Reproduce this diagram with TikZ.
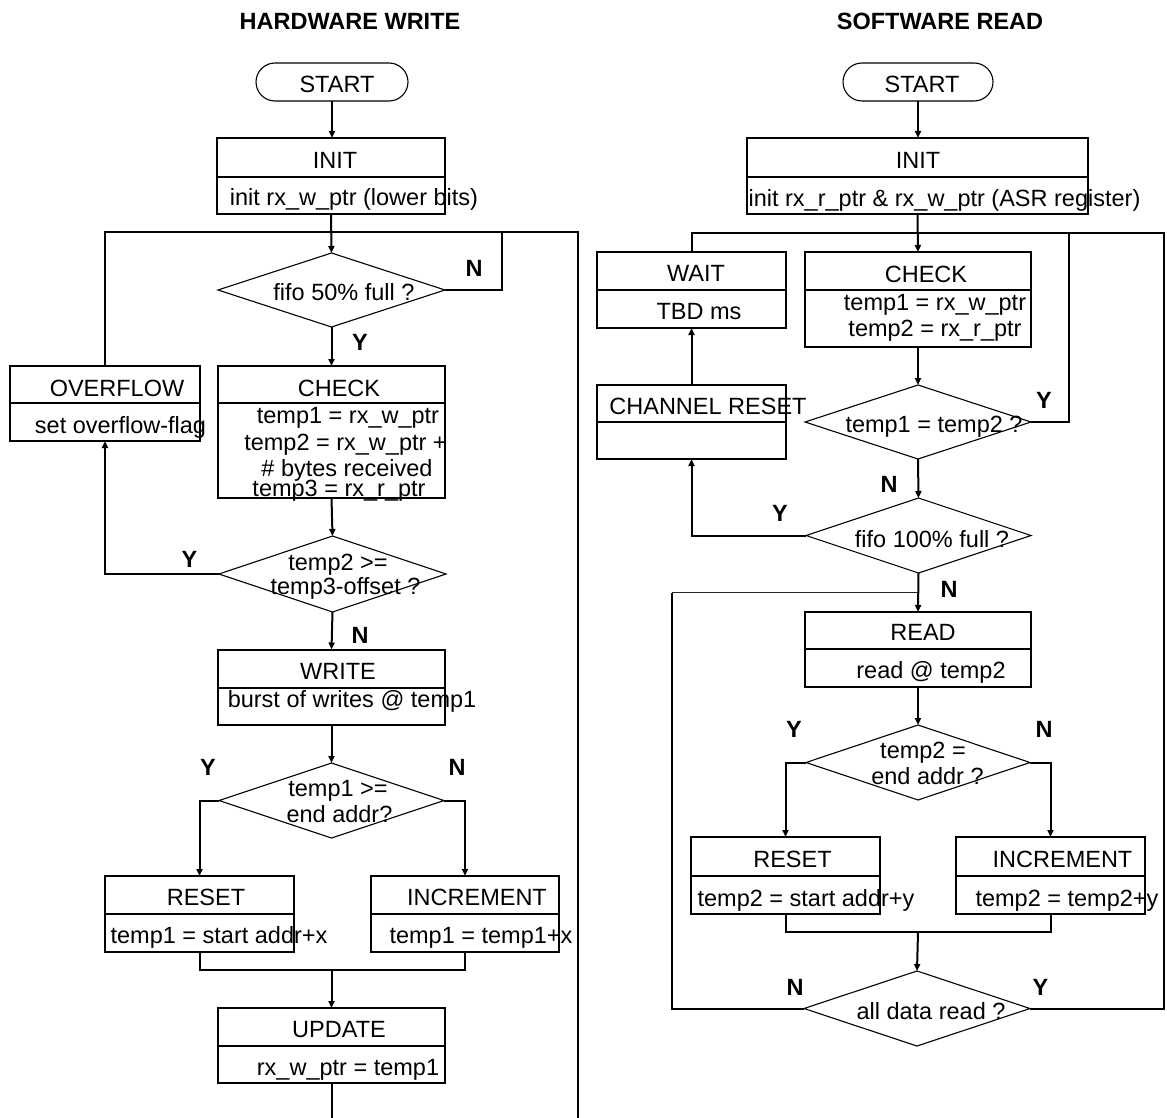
\documentclass[tikz,border=0pt]{standalone}
\usepackage{fontspec}
\setmainfont{Liberation Sans}
\usetikzlibrary{arrows.meta,shapes.geometric}

% a process box: name, x centre, top, width, height, divider offset from top
\newcommand\procbox[6]{%
  \node[box, minimum width=#4pt, minimum height=#5pt, anchor=north] (#1) at (#2,#3) {};
  \draw[boxline] ([yshift=-#6pt]#1.north west) -- ([yshift=-#6pt]#1.north east);
}

\begin{document}
\begin{tikzpicture}[x=1pt,y=-1pt,
  every node/.style={inner sep=0pt, outer sep=0pt},
  line/.style={line width=2pt},
  thinl/.style={line width=1.1pt, black!85},
  arr/.style={line width=2pt, -{Triangle[length=7pt,width=6pt]}},
  box/.style={draw, rectangle, line width=2pt},
  boxline/.style={line width=2pt},
  dec/.style={draw, diamond, line width=1.1pt},
  term/.style={draw, rectangle, rounded corners=19pt, line width=1.1pt},
  txt/.style={font=\fontsize{23.5}{26}\selectfont, text height=16.8pt, text depth=0pt},
  lbl/.style={font=\fontsize{23.5}{26}\selectfont\bfseries, text height=16.8pt, text depth=0pt},
]
\useasboundingbox (0,0) rectangle (1167,1118);

% ---------------- HARDWARE WRITE ----------------
\node[lbl] (httl) at (350,21) {HARDWARE WRITE};
\node[term, minimum width=152pt, minimum height=38pt] (hstart) at (332,82) {};
\node[txt] (hstart-t) at (337,84) {START};

\procbox{hinit}{331}{138}{228}{76}{39}
\node[txt] (hinit-a) at (335,160) {INIT};
\node[txt] (hinit-b) at (354,197) {init rx\_w\_ptr (lower bits)};

\node[dec, minimum width=227pt, minimum height=74pt] (hd1) at (331.5,290) {};
\node[txt] (hd1-t) at (344,292) {fifo 50\% full ?};
\node[lbl] (hd1-n) at (474,268) {N};
\node[lbl] (hd1-y) at (360,342) {Y};

\procbox{hcheck}{331.5}{366}{227}{132}{37}
\node[txt] (hcheck-a) at (339,388) {CHECK};
\node[txt] (hcheck-b) at (348,415.5) {temp1 = rx\_w\_ptr};
\node[txt] (hcheck-c) at (345.5,442) {temp2 = rx\_w\_ptr +};
\node[txt] (hcheck-d) at (347,468) {\# bytes received};
\node[txt] (hcheck-e) at (339,488) {temp3 = rx\_r\_ptr};

\procbox{hover}{105}{366}{190}{75}{37}
\node[txt] (hover-a) at (117,388) {OVERFLOW};
\node[txt] (hover-b) at (120.5,425) {set overflow-flag};

\node[dec, minimum width=227pt, minimum height=76pt] (hd2) at (332.5,574) {};
\node[txt] (hd2-a) at (338,562) {temp2 >=};
\node[txt] (hd2-b) at (345.5,586) {temp3-offset ?};
\node[lbl] (hd2-y) at (189.5,559) {Y};
\node[lbl] (hd2-n) at (360,635) {N};

\procbox{hwrite}{331.5}{649.5}{227}{75.5}{38}
\node[txt] (hwrite-a) at (338,671) {WRITE};
\node[txt] (hwrite-b) at (352,699) {burst of writes @ temp1};

\node[dec, minimum width=225pt, minimum height=75pt] (hd3) at (331.5,800.5) {};
\node[txt] (hd3-a) at (338,788) {temp1 >=};
\node[txt] (hd3-b) at (339.5,814.5) {end addr?};
\node[lbl] (hd3-y) at (208,767) {Y};
\node[lbl] (hd3-n) at (457,767) {N};

\procbox{hreset}{199.5}{876}{189}{76}{38}
\node[txt] (hreset-a) at (206,897) {RESET};
\node[txt] (hreset-b) at (219,935.5) {temp1 = start addr+x};

\procbox{hinc}{465}{876}{188}{76}{38}
\node[txt] (hinc-a) at (477,897) {INCREMENT};
\node[txt] (hinc-b) at (481,935.5) {temp1 = temp1+x};

\procbox{hupd}{331.5}{1008}{227}{75}{38}
\node[txt] (hupd-a) at (339,1029.5) {UPDATE};
\node[txt] (hupd-b) at (348,1067.5) {rx\_w\_ptr = temp1};

\coordinate (hloopR) at (578,232);
\coordinate (hloopE) at (578,1118);
\coordinate (hnr) at (502,232);
\coordinate (hm) at (331.5,970);
\coordinate (hbot) at (331.5,1118);

\draw[arr] (hstart.south) -- (hstart.south |- hinit.north);
\draw[arr] (hinit.south) -- (hd1.north);
\draw[line] (hover.north) |- (hloopR) -- (hloopE);
\draw[line] (hd1.east) -| (hnr);
\draw[arr] (hd1.south) -- (hcheck.north);
\draw[arr] (hcheck.south) -- (hd2.north);
\draw[arr] (hd2.west) -| (hover.south);
\draw[arr] (hd2.south) -- (hwrite.north);
\draw[arr] (hwrite.south) -- (hd3.north);
\draw[arr] (hd3.west) -| (hreset.north);
\draw[arr] (hd3.east) -| (hinc.north);
\draw[line] (hreset.south) |- (hm) -| (hinc.south);
\draw[arr] (hm) -- (hupd.north);
\draw[line] (hupd.south) -- (hbot);

% ---------------- SOFTWARE READ ----------------
\node[lbl] (sttl) at (940,21) {SOFTWARE READ};
\node[term, minimum width=150pt, minimum height=38pt] (sstart) at (918,82) {};
\node[txt] (sstart-t) at (922,84) {START};

\procbox{sinit}{917.5}{138}{341}{76}{39}
\node[txt] (sinit-a) at (918,160) {INIT};
\node[txt] (sinit-b) at (944.5,198) {init rx\_r\_ptr \& rx\_w\_ptr (ASR register)};

\procbox{swait}{691.5}{252}{189}{76}{38}
\node[txt] (swait-a) at (696,273) {WAIT};
\node[txt] (swait-b) at (699,311) {TBD ms};

\procbox{scheck}{918}{252}{226}{95}{38}
\node[txt] (scheck-a) at (926,274) {CHECK};
\node[txt] (scheck-b) at (935,302) {temp1 = rx\_w\_ptr};
\node[txt] (scheck-c) at (935,328) {temp2 = rx\_r\_ptr};

\procbox{schan}{691.5}{385}{189}{74}{37}
\node[txt] (schan-a) at (708,406) {CHANNEL RESET};

\node[dec, minimum width=226pt, minimum height=74pt] (sd1) at (918,422) {};
\node[txt] (sd1-t) at (934,424) {temp1 = temp2 ?};
\node[lbl] (sd1-y) at (1044,400) {Y};
\node[lbl] (sd1-n) at (889,484) {N};

\node[dec, minimum width=225pt, minimum height=75pt] (sd2) at (918.5,535.5) {};
\node[txt] (sd2-t) at (932,539.5) {fifo 100\% full ?};
\node[lbl] (sd2-y) at (780,513) {Y};
\node[lbl] (sd2-n) at (949,589) {N};

\procbox{sread}{918}{612}{226}{75}{37}
\node[txt] (sread-a) at (923,632) {READ};
\node[txt] (sread-b) at (931,670.5) {read @ temp2};

\node[dec, minimum width=224pt, minimum height=75pt] (sd3) at (918,762.5) {};
\node[txt] (sd3-a) at (923,750.5) {temp2 =};
\node[txt] (sd3-b) at (927.5,776.5) {end addr ?};
\node[lbl] (sd3-y) at (794,729) {Y};
\node[lbl] (sd3-n) at (1044,729) {N};

\procbox{sreset}{785.5}{837}{189}{77}{39}
\node[txt] (sreset-a) at (792.5,859) {RESET};
\node[txt] (sreset-b) at (806,898) {temp2 = start addr+y};

\procbox{sinc}{1050.5}{837}{189}{77}{39}
\node[txt] (sinc-a) at (1062.5,859) {INCREMENT};
\node[txt] (sinc-b) at (1067,898) {temp2 = temp2+y};

\node[dec, minimum width=226pt, minimum height=75pt] (sd4) at (917,1008.5) {};
\node[txt] (sd4-t) at (931,1011) {all data read ?};
\node[lbl] (sd4-n) at (795,987) {N};
\node[lbl] (sd4-y) at (1040.5,987) {Y};

\coordinate (sloopR) at (1164,233);
\coordinate (syr) at (1069,233);
\coordinate (snl) at (672,592.5);
\coordinate (sm) at (918,932);

\draw[arr] (sstart.south) -- (sstart.south |- sinit.north);
\draw[arr] (sinit.south) -- (scheck.north);
\draw[line] (sd4.east) -| (sloopR) -- (sloopR -| swait.north) -- (swait.north);
\draw[line] (sd1.east) -| (syr);
\draw[arr] (scheck.south) -- (sd1.north);
\draw[arr] (sd1.south) -- (sd2.north);
\draw[arr] (sd2.west) -| (schan.south);
\draw[arr] (schan.north) -- (swait.south);
\draw[arr] (sd2.south) -- (sread.north);
\draw[line] (sd4.west) -| (snl);
\draw[thinl] (snl) -- (snl -| sread.north);
\draw[arr] (sread.south) -- (sd3.north);
\draw[arr] (sd3.west) -| (sreset.north);
\draw[arr] (sd3.east) -| (sinc.north);
\draw[line] (sreset.south) |- (sm) -| (sinc.south);
\draw[arr] (sm) -- (sd4.north);
\end{tikzpicture}
\end{document}
